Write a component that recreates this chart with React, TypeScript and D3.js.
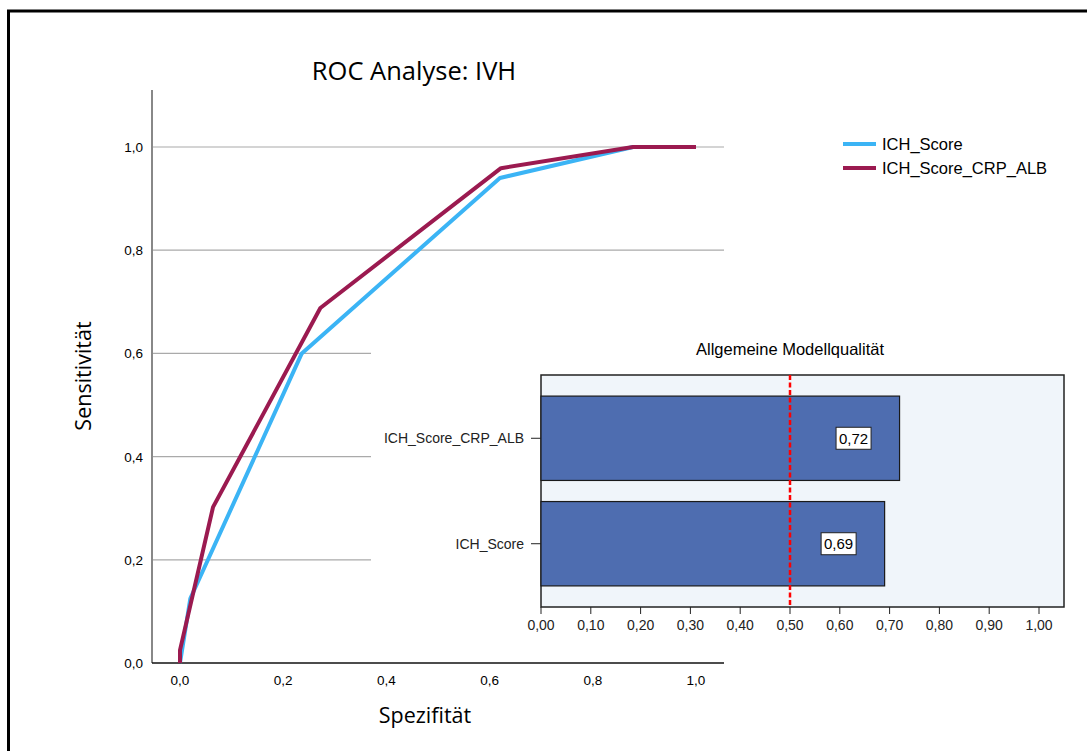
import React, { useEffect, useRef } from "react";
import * as d3 from "d3";

// ROC curve points (x = Spezifität axis, y = Sensitivität)
const ichScoreX = [0, 0.02, 0.236, 0.62, 0.878, 1.0];
const ichScoreY = [0, 0.125, 0.6, 0.94, 1.0, 1.0];
const crpAlbX = [0, 0, 0.064, 0.272, 0.622, 0.878, 1.0];
const crpAlbY = [0, 0.025, 0.302, 0.688, 0.959, 1.0, 1.0];

const seriesNames = ["ICH_Score", "ICH_Score_CRP_ALB"];
const seriesColors = ["#3BB4F5", "#9B1A50"];

const rocTicks = [0, 0.2, 0.4, 0.6, 0.8, 1.0];

// inset bar chart
const modelNames = ["ICH_Score_CRP_ALB", "ICH_Score"];
const modelQuality = [0.72, 0.69];
const qualityTicks = [0, 0.1, 0.2, 0.3, 0.4, 0.5, 0.6, 0.7, 0.8, 0.9, 1.0];
const refLine = 0.5;

const de = d3.formatLocale({
  decimal: ",",
  thousands: ".",
  grouping: [3],
  currency: ["", " €"]
});
const f1 = de.format(".1f");
const f2 = de.format(".2f");

const W = 1087;
const H = 751;
const sans = "'Liberation Sans', Arial, sans-serif";
const titleFont = "'Open Sans', 'Noto Sans', sans-serif";

export default function App() {
  const ref = useRef<SVGSVGElement>(null);

  useEffect(() => {
    const svg = d3.select(ref.current);
    svg.selectAll("*").remove();

    // outer frame
    svg.append("rect")
      .attr("x", 8.5).attr("y", 11)
      .attr("width", W + 20).attr("height", H + 20)
      .attr("fill", "white")
      .attr("stroke", "black")
      .attr("stroke-width", 3);

    const x = d3.scaleLinear().domain([0, 1]).range([180, 696]);
    const y = d3.scaleLinear().domain([0, 1]).range([663, 147]);

    // title
    svg.append("text")
      .attr("x", 414).attr("y", 80)
      .attr("text-anchor", "middle")
      .attr("font-family", titleFont)
      .attr("font-size", 25.5)
      .text("ROC Analyse: IVH");

    // gridlines
    svg.append("g")
      .selectAll("line")
      .data(rocTicks.filter(d => d > 0))
      .enter()
      .append("line")
      .attr("x1", 152)
      .attr("x2", 724)
      .attr("y1", d => y(d))
      .attr("y2", d => y(d))
      .attr("stroke", "#aaa")
      .attr("stroke-width", 1.2);

    // y axis
    svg.append("line")
      .attr("x1", 152).attr("x2", 152)
      .attr("y1", 90).attr("y2", 663)
      .attr("stroke", "#888").attr("stroke-width", 2);

    svg.append("g")
      .selectAll("text")
      .data(rocTicks)
      .enter()
      .append("text")
      .attr("x", 143)
      .attr("y", d => y(d) + 5)
      .attr("text-anchor", "end")
      .attr("font-family", sans)
      .attr("font-size", 13.5)
      .text(d => f1(d));

    // x axis
    svg.append("line")
      .attr("x1", 152).attr("x2", 724)
      .attr("y1", 663).attr("y2", 663)
      .attr("stroke", "#111").attr("stroke-width", 1.5);

    svg.append("g")
      .selectAll("text")
      .data(rocTicks)
      .enter()
      .append("text")
      .attr("x", d => x(d))
      .attr("y", 685)
      .attr("text-anchor", "middle")
      .attr("font-family", sans)
      .attr("font-size", 13.5)
      .text(d => f1(d));

    svg.append("text")
      .attr("x", 425).attr("y", 723)
      .attr("text-anchor", "middle")
      .attr("font-family", titleFont)
      .attr("font-size", 21.5)
      .text("Spezifität");

    svg.append("text")
      .attr("transform", "translate(91,376) rotate(-90)")
      .attr("text-anchor", "middle")
      .attr("font-family", titleFont)
      .attr("font-size", 21.5)
      .text("Sensitivität");

    // inset panel (covers gridlines)
    const inset = svg.append("g");
    inset.append("rect")
      .attr("x", 371).attr("y", 335)
      .attr("width", 705).attr("height", 305)
      .attr("fill", "white");

    const bx = d3.scaleLinear().domain([0, 1]).range([541, 1039]);
    const by = d3.scaleBand().domain(modelNames).range([375, 607]).padding(0.2);

    inset.append("text")
      .attr("x", 790).attr("y", 355)
      .attr("text-anchor", "middle")
      .attr("font-family", sans)
      .attr("font-size", 16.5)
      .text("Allgemeine Modellqualität");

    inset.append("rect")
      .attr("x", 541).attr("y", 375)
      .attr("width", 523).attr("height", 232)
      .attr("fill", "#F0F5FA")
      .attr("stroke", "#222")
      .attr("stroke-width", 1.5);

    inset.selectAll(".bar")
      .data(modelQuality)
      .enter()
      .append("rect")
      .attr("class", "bar")
      .attr("x", bx(0))
      .attr("y", (d, i) => by(modelNames[i])!)
      .attr("width", d => bx(d) - bx(0))
      .attr("height", by.bandwidth())
      .attr("fill", "#4E6DB0")
      .attr("stroke", "#1a1a1a")
      .attr("stroke-width", 1.2);

    inset.append("line")
      .attr("x1", bx(refLine)).attr("x2", bx(refLine))
      .attr("y1", 375).attr("y2", 607)
      .attr("stroke", "#ff0000")
      .attr("stroke-width", 2.5)
      .attr("stroke-dasharray", "5,2.5");

    // value labels
    modelQuality.forEach((d, i) => {
      const cx = bx(d) - 46;
      const cy = by(modelNames[i])! + by.bandwidth() / 2;
      inset.append("rect")
        .attr("x", cx - 17.5).attr("y", cy - 11)
        .attr("width", 35).attr("height", 22)
        .attr("fill", "white")
        .attr("stroke", "#222")
        .attr("stroke-width", 1);
      inset.append("text")
        .attr("x", cx).attr("y", cy + 5.5)
        .attr("text-anchor", "middle")
        .attr("font-family", sans)
        .attr("font-size", 15)
        .text(f2(d));
    });

    // category axis
    modelNames.forEach(name => {
      const cy = by(name)! + by.bandwidth() / 2;
      inset.append("line")
        .attr("x1", 531).attr("x2", 541)
        .attr("y1", cy).attr("y2", cy)
        .attr("stroke", "#222");
      inset.append("text")
        .attr("x", 524).attr("y", cy + 5)
        .attr("text-anchor", "end")
        .attr("font-family", sans)
        .attr("font-size", 14)
        .attr("fill", "#222")
        .text(name);
    });

    // value axis
    const ax = inset.append("g");
    qualityTicks.forEach(t => {
      ax.append("line")
        .attr("x1", bx(t)).attr("x2", bx(t))
        .attr("y1", 607).attr("y2", 614)
        .attr("stroke", "#222");
      ax.append("text")
        .attr("x", bx(t)).attr("y", 630)
        .attr("text-anchor", "middle")
        .attr("font-family", sans)
        .attr("font-size", 14)
        .attr("fill", "#222")
        .text(f2(t));
    });

    // ROC curves
    const line = d3.line<[number, number]>()
      .x(d => x(d[0]))
      .y(d => y(d[1]));

    const curves: [number, number][][] = [
      ichScoreX.map((v, i) => [v, ichScoreY[i]]),
      crpAlbX.map((v, i) => [v, crpAlbY[i]])
    ];

    curves.forEach((pts, i) => {
      svg.append("path")
        .attr("d", line(pts))
        .attr("fill", "none")
        .attr("stroke", seriesColors[i])
        .attr("stroke-width", 4)
        .attr("stroke-linejoin", "round");
    });

    // legend
    seriesNames.forEach((name, i) => {
      const ly = 144 + i * 24;
      svg.append("line")
        .attr("x1", 843).attr("x2", 876)
        .attr("y1", ly).attr("y2", ly)
        .attr("stroke", seriesColors[i])
        .attr("stroke-width", 4);
      svg.append("text")
        .attr("x", 882).attr("y", ly + 6)
        .attr("font-family", sans)
        .attr("font-size", 16.5)
        .text(name);
    });
  }, []);

  return (
    <div style={{ position: "absolute", left: 0, top: 0 }}>
      <svg ref={ref} width={W} height={H} style={{ display: "block" }} />
    </div>
  );
}
